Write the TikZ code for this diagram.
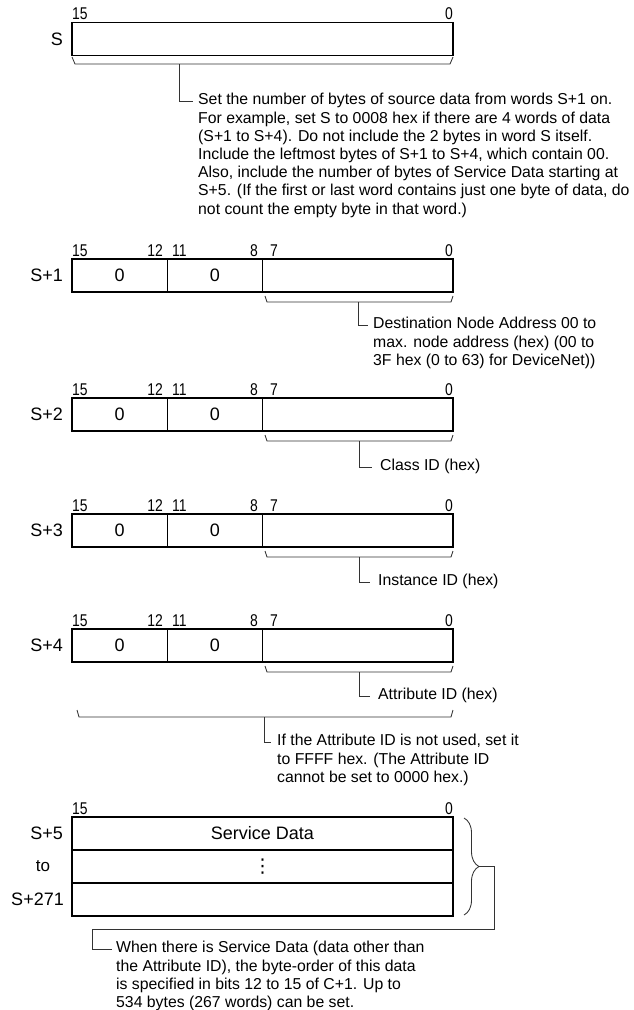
\documentclass[tikz,border=0pt]{standalone}
\usepackage{fontspec}
\setmainfont{Liberation Sans}
\newfontfamily\bitfont[FakeStretch=0.82]{Liberation Sans}
\newfontfamily\dotfont{DejaVu Sans}
\usetikzlibrary{decorations.pathreplacing}

\begin{document}
\begin{tikzpicture}[x=1pt,y=-1pt,
  cell/.style={draw,line width=.9pt,inner sep=0pt,outer sep=0pt,minimum height=33pt,font=\fontsize{18}{21}\selectfont},
  wordbox/.style={draw,line width=1.8pt,inner sep=0pt,outer sep=0pt,minimum width=381pt,minimum height=33pt,font=\fontsize{18}{21}\selectfont},
  outline/.style={line width=1.8pt},
  bitno/.style={inner sep=0pt,font=\bitfont\fontsize{17}{19}\selectfont},
  rowname/.style={anchor=east,inner sep=0pt,font=\fontsize{18}{21}\selectfont},
  note/.style={anchor=north west,inner sep=0pt,align=left,font=\fontsize{15.8}{18.2}\selectfont},
  brkt/.style={line width=.85pt,black!80}]
\path[use as bounding box] (0,0) rectangle (634,1010);
% word S
\node[bitno,anchor=base west] (sn15) at (72,19.5) {15};
\node[bitno,anchor=base east] (sn0) at (453,19.5) {0};
\node[wordbox] (sw) at (262.5,39) {};
\node[rowname] (sl) at (63,39) {S};
\draw[brkt] (72,57) -- (75,64) -- (450,64) -- (453,57);
\coordinate (sbr) at (179,64);
\node[note] (snote) at (198,92) {\strut Set the number of bytes of source data from words S+1 on.\\For example, set S to 0008 hex if there are 4 words of data\\(S+1 to S+4). Do not include the 2 bytes in word S itself.\\Include the leftmost bytes of S+1 to S+4, which contain 00.\\Also, include the number of bytes of Service Data starting at\\S+5. (If the first or last word contains just one byte of data, do\\not count the empty byte in that word.)};
\draw[brkt] (sbr) |- ([xshift=-5pt,yshift=-9pt]snote.north west);
% word S+1
\node[bitno,anchor=base west] (s1n15) at (72,256) {15};
\node[bitno,anchor=base east] (s1n12) at (163,256) {12};
\node[bitno,anchor=base west] (s1n11) at (172,256) {11};
\node[bitno,anchor=base east] (s1n8) at (258,256) {8};
\node[bitno,anchor=base west] (s1n7) at (270,256) {7};
\node[bitno,anchor=base east] (s1n0) at (453,256) {0};
\node[cell,minimum width=95.25pt] (s1a) at (119.6,275.5) {0};
\node[cell,minimum width=95.25pt] (s1b) at (214.9,275.5) {0};
\node[cell,minimum width=190.5pt] (s1c) at (357.75,275.5) {};
\draw[outline] (s1a.north west) rectangle (s1c.south east);
\node[rowname] (s1l) at (63,275.5) {S+1};
\draw[brkt] (265,296) -- (267,302) -- (451,302) -- (453,296);
\coordinate (s1br) at (358,302);
\node[note] (s1note) at (373,316) {\strut Destination Node Address 00 to\\max. node address (hex) (00 to\\3F hex (0 to 63) for DeviceNet))};
\draw[brkt] (s1br) |- ([xshift=-5pt,yshift=-9pt]s1note.north west);
% word S+2
\node[bitno,anchor=base west] (s2n15) at (72,395) {15};
\node[bitno,anchor=base east] (s2n12) at (163,395) {12};
\node[bitno,anchor=base west] (s2n11) at (172,395) {11};
\node[bitno,anchor=base east] (s2n8) at (258,395) {8};
\node[bitno,anchor=base west] (s2n7) at (270,395) {7};
\node[bitno,anchor=base east] (s2n0) at (453,395) {0};
\node[cell,minimum width=95.25pt] (s2a) at (119.6,414.5) {0};
\node[cell,minimum width=95.25pt] (s2b) at (214.9,414.5) {0};
\node[cell,minimum width=190.5pt] (s2c) at (357.75,414.5) {};
\draw[outline] (s2a.north west) rectangle (s2c.south east);
\node[rowname] (s2l) at (63,414.5) {S+2};
\draw[brkt] (265,435) -- (267,441) -- (451,441) -- (453,435);
\coordinate (s2br) at (359,441);
\node[note] (s2note) at (380,458) {\strut Class ID (hex)};
\draw[brkt] (s2br) |- ([xshift=-8pt,yshift=-9pt]s2note.north west);
% word S+3
\node[bitno,anchor=base west] (s3n15) at (72,511) {15};
\node[bitno,anchor=base east] (s3n12) at (163,511) {12};
\node[bitno,anchor=base west] (s3n11) at (172,511) {11};
\node[bitno,anchor=base east] (s3n8) at (258,511) {8};
\node[bitno,anchor=base west] (s3n7) at (270,511) {7};
\node[bitno,anchor=base east] (s3n0) at (453,511) {0};
\node[cell,minimum width=95.25pt] (s3a) at (119.6,530.5) {0};
\node[cell,minimum width=95.25pt] (s3b) at (214.9,530.5) {0};
\node[cell,minimum width=190.5pt] (s3c) at (357.75,530.5) {};
\draw[outline] (s3a.north west) rectangle (s3c.south east);
\node[rowname] (s3l) at (63,530.5) {S+3};
\draw[brkt] (265,551) -- (267,557) -- (451,557) -- (453,551);
\coordinate (s3br) at (359,557);
\node[note] (s3note) at (378,573) {\strut Instance ID (hex)};
\draw[brkt] (s3br) |- ([xshift=-8pt,yshift=-9pt]s3note.north west);
% word S+4
\node[bitno,anchor=base west] (s4n15) at (72,626) {15};
\node[bitno,anchor=base east] (s4n12) at (163,626) {12};
\node[bitno,anchor=base west] (s4n11) at (172,626) {11};
\node[bitno,anchor=base east] (s4n8) at (258,626) {8};
\node[bitno,anchor=base west] (s4n7) at (270,626) {7};
\node[bitno,anchor=base east] (s4n0) at (453,626) {0};
\node[cell,minimum width=95.25pt] (s4a) at (119.6,645.5) {0};
\node[cell,minimum width=95.25pt] (s4b) at (214.9,645.5) {0};
\node[cell,minimum width=190.5pt] (s4c) at (357.75,645.5) {};
\draw[outline] (s4a.north west) rectangle (s4c.south east);
\node[rowname] (s4l) at (63,645.5) {S+4};
\draw[brkt] (265,666) -- (267,672) -- (451,672) -- (453,666);
\coordinate (s4br) at (359,672);
\node[note] (s4note) at (378,687) {\strut Attribute ID (hex)};
\draw[brkt] (s4br) |- ([xshift=-8pt,yshift=-9pt]s4note.north west);
% whole of S+1 to S+4
\draw[brkt] (77,710) -- (79,717) -- (451,717) -- (453,710);
\coordinate (allbr) at (264,717);
\node[note] (allnote) at (277,733) {\strut If the Attribute ID is not used, set it\\to FFFF hex. (The Attribute ID\\cannot be set to 0000 hex.)};
\draw[brkt] (allbr) |- ([xshift=-6pt,yshift=-9pt]allnote.north west);
% words S+5 to S+271
\node[bitno,anchor=base west] (s5n15) at (72,814) {15};
\node[bitno,anchor=base east] (s5n0) at (453,814) {0};
\node[wordbox] (s5a) at (262.5,833.5) {Service Data};
\node[wordbox,font=\dotfont\fontsize{19}{22}\selectfont] (s5b) at (262.5,866.5) {⋮};
\node[wordbox] (s5c) at (262.5,899.5) {};
\node[rowname] (s5l) at (63,833.5) {S+5};
\node[rowname,anchor=center,font=\fontsize{17}{20}\selectfont] (tol) at (43,866.5) {to};
\node[rowname] (s271l) at (64,899.5) {S+271};
\draw[brkt,decorate,decoration={brace,amplitude=15pt}] (464,818) -- (464,915);
\coordinate (svtip) at (479,866.5);
\coordinate (svturn) at (92,929);
\node[note] (svnote) at (116,940) {\strut When there is Service Data (data other than\\the Attribute ID), the byte-order of this data\\is specified in bits 12 to 15 of C+1. Up to\\534 bytes (267 words) can be set.};
\draw[brkt] (svtip) -- ++(15,0) |- (svturn) |- ([xshift=-4pt,yshift=-9pt]svnote.north west);
\end{tikzpicture}
\end{document}
